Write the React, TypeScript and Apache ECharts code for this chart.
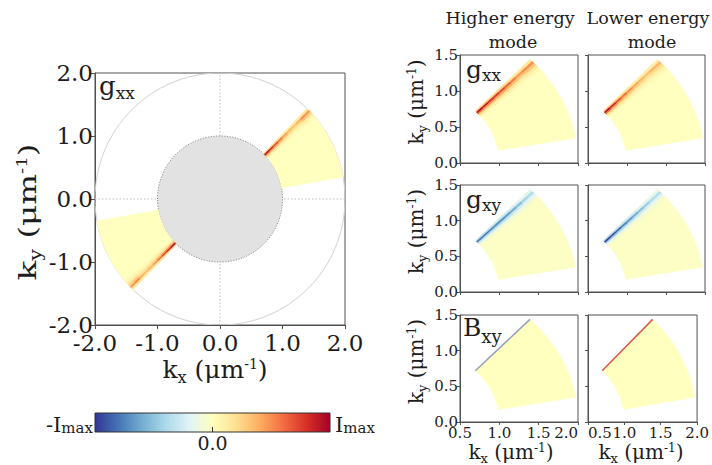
import React, { useEffect, useRef } from 'react';
import * as echarts from 'echarts';

const FONT = "'DejaVu Serif', 'Liberation Serif', serif";
const INK = '#1c1c1c';
const FRAME = '#505050';

// RdYlBu_r colormap, -Imax .. Imax
const COLORMAP = ['#313695', '#4575b4', '#74add1', '#abd9e9', '#e0f3f8', '#ffffbf', '#fee090', '#fdae61', '#f46d43', '#d73027', '#a50026'];

// axes
const MAIN_AXIS = [-2, 2];
const MAIN_STEP = 1;
const ZOOM_X_AXIS = [0.5, 2];
const ZOOM_Y_AXIS = [0, 1.5];
const ZOOM_STEP = 0.5;

// k-space geometry (µm^-1, degrees)
const DISC_K = 1;
const OUTER_K = 2;
const SECTOR_K = [1, 2];
const SECTOR_DEG = [10, 46];
const MIRROR_DEG = 180;
const RADIAL_EDGES = [1.0, 1.1, 1.2, 1.3, 1.4, 1.5, 1.6, 1.7, 1.8, 1.9, 2.0];
const BAND_EDGES_DEG = [46.0, 44.9, 43.8, 42.7, 41.6, 40.5];
const GXX_CROSS = [0.3, 1.0, 0.6, 0.28, 0.1];
const GXY_CROSS = [0.4, 1.0, 0.5, 0.2, 0.07];

// radial intensity profiles (fraction of Imax) along the band, r = 1.0 .. 2.0
const gxxMain = [1.0, 0.88, 0.75, 0.6, 0.46, 0.38, 0.35, 0.38, 0.5, 0.46];
const gxxHigher = [1.0, 0.9, 0.84, 0.78, 0.72, 0.64, 0.55, 0.46, 0.5, 0.5];
const gxxLower = [1.0, 0.85, 0.72, 0.6, 0.5, 0.42, 0.36, 0.32, 0.36, 0.36];
const gxyHigher = [-0.82, -0.78, -0.74, -0.72, -0.7, -0.66, -0.6, -0.52, -0.42, -0.38];
const gxyLower = [-1.0, -0.92, -0.84, -0.76, -0.68, -0.6, -0.52, -0.45, -0.38, -0.36];
const bxyHigher = -0.9;
const bxyLower = 0.82;
const SECTOR_BASE_GXX = 0;
const SECTOR_BASE_GXY = -0.02;
const SECTOR_BASE_BXY = 0;

const DECOR = 0, CELL = 1, EDGE = 2;

function hexToRgb(h: string) {
  const n = parseInt(h.slice(1), 16);
  return [(n >> 16) & 255, (n >> 8) & 255, n & 255];
}
const CMAP_RGB = COLORMAP.map(hexToRgb);
function cmap(v: number) {
  const t = ((Math.max(-1, Math.min(1, v)) + 1) / 2) * (CMAP_RGB.length - 1);
  const i = Math.min(Math.floor(t), CMAP_RGB.length - 2);
  const f = t - i;
  const a = CMAP_RGB[i], b = CMAP_RGB[i + 1];
  const c = [0, 1, 2].map((k) => Math.round(a[k] + (b[k] - a[k]) * f));
  return `rgb(${c[0]},${c[1]},${c[2]})`;
}

function sector(base: number, rot = 0) {
  return [[CELL, SECTOR_K[0], SECTOR_K[1], SECTOR_DEG[0] + rot, SECTOR_DEG[1] + rot, base]];
}
function band(profile: number[], cross: number[], rot = 0) {
  const out: number[][] = [];
  profile.forEach((p, i) =>
    cross.forEach((c, j) => {
      out.push([CELL, RADIAL_EDGES[i], RADIAL_EDGES[i + 1], BAND_EDGES_DEG[j + 1] + rot, BAND_EDGES_DEG[j] + rot, p * c]);
    })
  );
  return out;
}
function edge(v: number) {
  return [[EDGE, SECTOR_K[0], SECTOR_K[1], SECTOR_DEG[1], SECTOR_DEG[1], v]];
}

const panels = [
  {
    grid: { left: 95, top: 73, width: 250, height: 252 }, x: MAIN_AXIS, y: MAIN_AXIS, step: MAIN_STEP, xl: true, yl: true, big: true, col: 0,
    items: [[DECOR, DISC_K, OUTER_K, 0, 0, 0], ...sector(SECTOR_BASE_GXX), ...sector(SECTOR_BASE_GXX, MIRROR_DEG), ...band(gxxMain, GXX_CROSS), ...band(gxxMain, GXX_CROSS, MIRROR_DEG)],
  },
  { grid: { left: 460, top: 55, width: 118, height: 108 }, x: ZOOM_X_AXIS, y: ZOOM_Y_AXIS, step: ZOOM_STEP, xl: false, yl: true, big: false, col: 1, items: [...sector(SECTOR_BASE_GXX), ...band(gxxHigher, GXX_CROSS)] },
  { grid: { left: 588, top: 55, width: 117, height: 108 }, x: ZOOM_X_AXIS, y: ZOOM_Y_AXIS, step: ZOOM_STEP, xl: false, yl: false, big: false, col: 2, items: [...sector(SECTOR_BASE_GXX), ...band(gxxLower, GXX_CROSS)] },
  { grid: { left: 460, top: 185, width: 118, height: 107 }, x: ZOOM_X_AXIS, y: ZOOM_Y_AXIS, step: ZOOM_STEP, xl: false, yl: true, big: false, col: 1, items: [...sector(SECTOR_BASE_GXY), ...band(gxyHigher, GXY_CROSS)] },
  { grid: { left: 588, top: 185, width: 117, height: 107 }, x: ZOOM_X_AXIS, y: ZOOM_Y_AXIS, step: ZOOM_STEP, xl: false, yl: false, big: false, col: 2, items: [...sector(SECTOR_BASE_GXY), ...band(gxyLower, GXY_CROSS)] },
  { grid: { left: 460, top: 315, width: 118, height: 107 }, x: ZOOM_X_AXIS, y: ZOOM_Y_AXIS, step: ZOOM_STEP, xl: true, yl: true, big: false, col: 1, items: [...sector(SECTOR_BASE_BXY), ...edge(bxyHigher)] },
  { grid: { left: 588, top: 315, width: 117, height: 107 }, x: ZOOM_X_AXIS, y: ZOOM_Y_AXIS, step: ZOOM_STEP, xl: true, yl: false, big: false, col: 2, items: [...sector(SECTOR_BASE_BXY), ...edge(bxyLower)] },
];

function renderItem(params: any, api: any) {
  const kind = api.value(0);
  const r0 = api.value(1), r1 = api.value(2), t0 = api.value(3), t1 = api.value(4), v = api.value(5);
  const pt = (r: number, deg: number) => api.coord([r * Math.cos((deg * Math.PI) / 180), r * Math.sin((deg * Math.PI) / 180)]);
  if (kind === DECOR) {
    const c = api.coord([0, 0]);
    const sd = api.size([r0, r0]);
    const so = api.size([r1, r1]);
    const xa = api.coord([MAIN_AXIS[0], 0]), xb = api.coord([MAIN_AXIS[1], 0]);
    const ya = api.coord([0, MAIN_AXIS[0]]), yb = api.coord([0, MAIN_AXIS[1]]);
    const dash = { stroke: '#bdbdbd', lineWidth: 1, lineDash: [1.5, 2] };
    return {
      type: 'group',
      children: [
        { type: 'line', shape: { x1: xa[0], y1: xa[1], x2: xb[0], y2: xb[1] }, style: dash },
        { type: 'line', shape: { x1: ya[0], y1: ya[1], x2: yb[0], y2: yb[1] }, style: dash },
        { type: 'ellipse', shape: { cx: c[0], cy: c[1], rx: so[0], ry: so[1] }, style: { fill: 'none', stroke: '#d2d2d2', lineWidth: 1 } },
        { type: 'ellipse', shape: { cx: c[0], cy: c[1], rx: sd[0], ry: sd[1] }, style: { fill: '#e2e2e2', stroke: '#8e8e8e', lineWidth: 1, lineDash: [1.2, 1.5] } },
      ],
    };
  }
  if (kind === EDGE) {
    const p = pt(r0, t0), q = pt(r1, t0);
    return { type: 'line', shape: { x1: p[0], y1: p[1], x2: q[0], y2: q[1] }, style: { stroke: cmap(v), lineWidth: 1.5, opacity: v < 0 ? 0.55 : 0.8 } };
  }
  const steps = Math.max(2, Math.ceil(Math.abs(t1 - t0) / 1.5));
  const pts: number[][] = [];
  for (let i = 0; i <= steps; i++) pts.push(pt(r0, t0 + ((t1 - t0) * i) / steps));
  for (let i = steps; i >= 0; i--) pts.push(pt(r1, t0 + ((t1 - t0) * i) / steps));
  const col = cmap(v);
  return { type: 'polygon', shape: { points: pts }, style: { fill: col, stroke: col, lineWidth: 0.4 } };
}

// rich text with sub/superscripts: parts = [text, fontSize, baseline shift (px, + = down)]
type Part = [string, number, number];
function richText(parts: Part[]) {
  const maxSize = Math.max(...parts.map((p) => p[1]));
  const B = 0.95 * maxSize;
  const rich: any = {};
  let text = '';
  parts.forEach((p, i) => {
    const lh = Math.max(2, 2 * (B + p[2] - 0.35 * p[1]));
    rich['t' + i] = { fontFamily: FONT, fontSize: p[1], lineHeight: lh, height: lh, verticalAlign: 'top', fill: INK };
    text += `{t${i}|${p[0]}}`;
  });
  return { text, rich, B };
}

function label(parts: Part[], x: number, baseline: number, align: string, extra: any = {}) {
  const r = richText(parts);
  return {
    type: 'text', z: 100, silent: true, x, y: baseline - r.B, ...extra,
    style: { text: r.text, rich: r.rich, fill: INK, fontFamily: FONT, fontSize: parts[0][1], align, textAlign: align, verticalAlign: 'top', textVerticalAlign: 'top' },
  };
}
function rotLabel(parts: Part[], baselineX: number, centerY: number, scaleX = 1) {
  const r = richText(parts);
  return {
    type: 'text', z: 100, silent: true, x: baselineX - r.B, y: centerY, rotation: Math.PI / 2, scaleX,
    style: { text: r.text, rich: r.rich, fill: INK, fontFamily: FONT, fontSize: parts[0][1], align: 'center', textAlign: 'center', verticalAlign: 'top', textVerticalAlign: 'top' },
  };
}
const kParts = (sub: string, F: number): Part[] => [
  ['k', F, 0], [sub, Math.round(F * 0.65), Math.round(F * 0.2)], [' (μm', F, 0], ['-1', Math.round(F * 0.58), -Math.round(F * 0.36)], [')', F, 0],
];

const TITLES = [['Higher energy', 'mode', 510, 513], ['Lower energy', 'mode', 648, 652]];

const graphics: any[] = [];
TITLES.forEach((t) => {
  graphics.push(label([[t[0] as string, 17.5, 0]], t[2] as number, 24, 'center'));
  graphics.push(label([[t[1] as string, 17.5, 0]], t[3] as number, 48, 'center'));
});
// panel tags
graphics.push(label([['g', 26, 0], ['xx', 17, 4]], 99, 95, 'left'));
graphics.push(label([['g', 25, 0], ['xx', 17, 3]], 466, 55 + 23, 'left'));
graphics.push(label([['g', 25, 0], ['xy', 17, 3]], 466, 185 + 23, 'left'));
graphics.push(label([['B', 25, 0], ['xy', 18, 7]], 463, 315 + 21, 'left'));
// axis names
graphics.push(label(kParts('x', 25), 215, 378, 'center'));
graphics.push(rotLabel(kParts('y', 25), 36, 212, 1.3));
[109, 238.5, 368.5].forEach((cy) => graphics.push(rotLabel(kParts('y', 20), 423, cy - 7)));
graphics.push(label(kParts('x', 20), 511, 459, 'center'));
graphics.push(label(kParts('x', 20), 641, 459, 'center'));
// colorbar
const CB = { x: 95, y: 413, w: 235, h: 19 };
graphics.push({
  type: 'rect', z: 100, silent: true,
  shape: { x: CB.x, y: CB.y, width: CB.w, height: CB.h },
  style: {
    fill: new echarts.graphic.LinearGradient(0, 0, 1, 0, COLORMAP.map((c, i) => ({ offset: i / (COLORMAP.length - 1), color: c }))),
    stroke: '#333', lineWidth: 1,
  },
});
graphics.push({ type: 'line', z: 101, silent: true, shape: { x1: CB.x + CB.w / 2, y1: CB.y + CB.h - 5, x2: CB.x + CB.w / 2, y2: CB.y + CB.h }, style: { stroke: '#333', lineWidth: 1 } });
graphics.push(label([['0.0', 19, 0]], CB.x + CB.w / 2, 450, 'center'));
graphics.push(label([['-I', 21, 0], ['max', 15, 1.5]], 93, 432, 'right'));
graphics.push(label([['I', 21, 0], ['max', 15, 1.5]], 335, 432, 'left'));

const fmt = (v: number) => v.toFixed(1);

const option: any = {
  animation: false,
  backgroundColor: '#ffffff',
  grid: panels.map((p) => ({ ...p.grid, show: true, borderColor: FRAME, borderWidth: 1, backgroundColor: 'transparent', containLabel: false })),
  xAxis: panels.map((p, i) => ({
    gridIndex: i, type: 'value', min: p.x[0], max: p.x[1], interval: p.step,
    axisLine: { show: true, onZero: false, lineStyle: { color: FRAME, width: 1 } },
    axisTick: { show: true, length: p.big ? 4 : 3, lineStyle: { color: FRAME } },
    splitLine: { show: false },
    axisLabel: {
      show: p.xl, formatter: fmt, fontFamily: FONT, fontSize: p.big ? 23 : 15, color: INK, margin: p.big ? 6 : 3,
      alignMaxLabel: p.col === 1 ? 'right' : undefined, alignMinLabel: p.col === 2 ? 'left' : undefined,
    },
  })),
  yAxis: panels.map((p, i) => ({
    gridIndex: i, type: 'value', min: p.y[0], max: p.y[1], interval: p.step,
    axisLine: { show: true, onZero: false, lineStyle: { color: FRAME, width: 1 } },
    axisTick: { show: true, length: p.big ? 4 : 3, lineStyle: { color: FRAME } },
    splitLine: { show: false },
    axisLabel: { show: p.yl, formatter: fmt, fontFamily: FONT, fontSize: p.big ? 23 : 15, color: INK, margin: 2 },
  })),
  series: panels.map((p, i) => ({
    type: 'custom', coordinateSystem: 'cartesian2d', xAxisIndex: i, yAxisIndex: i,
    renderItem, data: p.items, silent: true, clip: true,
  })),
  graphic: { elements: graphics },
};

export default function App() {
  const ref = useRef<HTMLDivElement>(null);
  useEffect(() => {
    const chart = echarts.init(ref.current!, null, { renderer: 'svg' });
    chart.setOption(option);
    return () => chart.dispose();
  }, []);
  return <div ref={ref} style={{ position: 'fixed', left: 0, top: 0, width: 712, height: 465, background: '#fff' }} />;
}
